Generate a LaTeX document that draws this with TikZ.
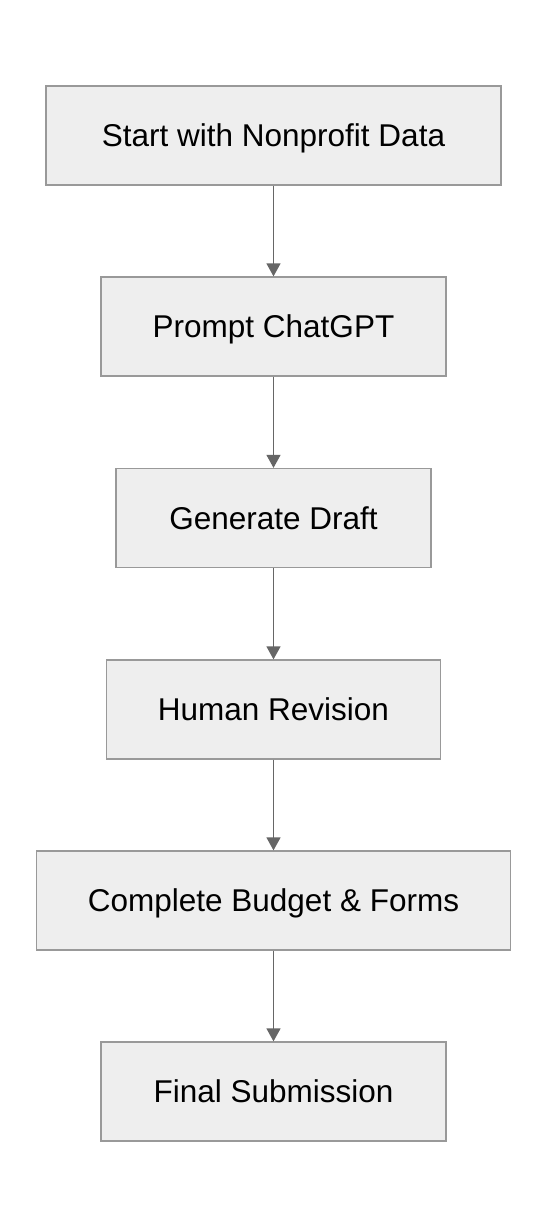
\documentclass[tikz,border=0pt]{standalone}
\usepackage{fontspec}
\setmainfont{Liberation Sans}
\usetikzlibrary{arrows.meta}
\definecolor{boxfill}{HTML}{EEEEEE}
\definecolor{boxline}{HTML}{999999}
\definecolor{arrowcol}{HTML}{666666}
\tikzset{
  flowbox/.style={draw=boxline, fill=boxfill, line width=1.3pt, minimum height=99pt, inner sep=0pt, text height=22.5pt, text depth=0pt, font=\fontsize{31.5}{36}\selectfont, text=black},
  flowarrow/.style={draw=arrowcol, line width=1.4pt, -{Triangle[length=13pt,width=14pt]}}
}
\begin{document}
\begin{tikzpicture}[x=1pt,y=-1pt]
\useasboundingbox (0,0) rectangle (548,1228);
\fill[white] (0,0) rectangle (548,1228);
\node[flowbox, minimum width=455pt] (n1) at (273.5,135.5) {Start with Nonprofit Data};
\node[flowbox, minimum width=345pt] (n2) at (273.5,326.5) {Prompt ChatGPT};
\node[flowbox, minimum width=315pt] (n3) at (273.5,518) {Generate Draft};
\node[flowbox, minimum width=334pt] (n4) at (273.5,709.5) {Human Revision};
\node[flowbox, minimum width=474pt] (n5) at (273.5,900.5) {Complete Budget \& Forms};
\node[flowbox, minimum width=345pt] (n6) at (273.5,1091.5) {Final Submission};
\draw[flowarrow] (n1) -- (n2);
\draw[flowarrow] (n2) -- (n3);
\draw[flowarrow] (n3) -- (n4);
\draw[flowarrow] (n4) -- (n5);
\draw[flowarrow] (n5) -- (n6);
\end{tikzpicture}
\end{document}
